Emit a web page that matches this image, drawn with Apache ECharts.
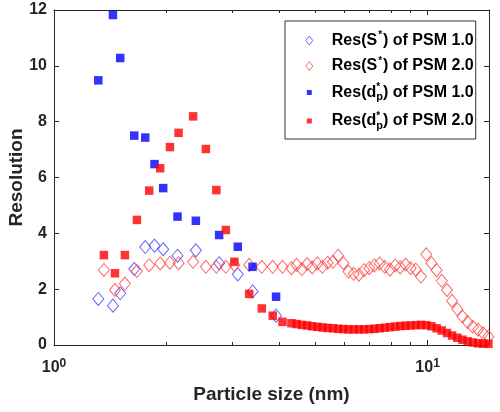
<!DOCTYPE html>
<html><head><meta charset="utf-8">
<script src="https://cdn.jsdelivr.net/npm/echarts@6/dist/echarts.min.js"></script>
<style>html,body{margin:0;padding:0;background:#fff}#c{width:500px;height:412px}</style>
</head><body><div id="c"></div>
<script>
// Particle sizes (nm)
const sizePsm1 = [1.314, 1.438, 1.504, 1.640, 1.755, 1.858, 1.960, 2.141, 2.397, 2.767, 3.104, 3.40, 3.93];
const resSPsm1 = [1.65, 1.41, 1.85, 2.72, 3.51, 3.56, 3.43, 3.20, 3.39, 2.93, 2.53, 1.92, 1.05];
const resDPsm1 = [9.48, 11.82, 10.28, 7.50, 7.43, 6.48, 5.62, 4.60, 4.45, 3.94, 3.52, 2.80, 1.73];

const sizePsm2 = [1.36, 1.456, 1.548, 1.667, 1.798, 1.924, 2.043, 2.155, 2.357, 2.55, 2.72, 2.884, 3.04, 3.33, 3.60, 3.85, 4.09,
  4.32, 4.46, 4.61, 4.76, 4.91, 5.07, 5.23, 5.40, 5.58, 5.76, 5.95, 6.14, 6.34, 6.55, 6.76, 6.98, 7.20, 7.44, 7.68, 7.93,
  8.19, 8.45, 8.73, 9.01, 9.30, 9.60, 9.92, 10.24, 10.57, 10.91, 11.27, 11.63, 12.01, 12.40, 12.80, 13.22, 13.65, 14.09, 14.55];
const resSPsm2 = [2.69, 1.97, 2.20, 2.65, 2.86, 2.92, 2.95, 2.93, 2.98, 2.80, 2.80, 2.80, 2.87, 2.87, 2.80, 2.80, 2.80,
  2.75, 2.87, 2.72, 2.90, 2.78, 2.92, 2.80, 2.95, 2.98, 3.20, 2.93, 2.63, 2.55, 2.52, 2.68, 2.75, 2.85, 2.92, 2.80, 2.70,
  2.85, 2.78, 2.88, 2.75, 2.70, 2.45, 3.25, 2.93, 2.68, 2.30, 1.97, 1.58, 1.28, 1.02, 0.82, 0.65, 0.55, 0.42, 0.30];
const resDPsm2 = [3.22, 2.57, 3.22, 4.48, 5.53, 6.33, 7.09, 7.60, 8.19, 7.02, 5.55, 4.12, 2.98, 1.83, 1.31, 1.05, 0.83,
  0.78, 0.75, 0.72, 0.70, 0.67, 0.65, 0.63, 0.61, 0.60, 0.58, 0.57, 0.56, 0.56, 0.56, 0.56, 0.57, 0.58, 0.60, 0.62, 0.64,
  0.66, 0.68, 0.69, 0.70, 0.71, 0.72, 0.71, 0.67, 0.60, 0.52, 0.43, 0.34, 0.26, 0.19, 0.13, 0.09, 0.06, 0.05, 0.04];

const seriesNames = ['Res(S*) of PSM 1.0', 'Res(S*) of PSM 2.0', 'Res(dp*) of PSM 1.0', 'Res(dp*) of PSM 2.0'];
const xMajorTicks = [1, 10];
const xMinorTicks = [2, 3, 4, 5, 6, 7, 8, 9];

const FONT = "'Liberation Sans', Arial, sans-serif";
const AX = '#262626';
const BLUE = '#0000ff', RED = '#ff0000';
const BLUE_L = '#4040ff', RED_L = '#ff4040';

function pairs(xs, ys) { return xs.map((x, i) => [x, ys[i]]); }

// icons padded to the full 35x10 item box (invisible zero-length corners) so the legend layout keeps its left edge
const DIAMOND_ICON = 'path://M0,0L0,0M35,10L35,10M17.5,0.5L21,5L17.5,9.5L14,5Z';
const SQUARE_ICON = 'path://M0,0L0,0M35,10L35,10M15,2.5L20,2.5L20,7.5L15,7.5Z';

const legendLabel = {
  'Res(S*) of PSM 1.0': '{b|Res(S}{sup|*}{b|) of PSM 1.0}',
  'Res(S*) of PSM 2.0': '{b|Res(S}{sup|*}{b|) of PSM 2.0}',
  'Res(dp*) of PSM 1.0': '{b|Res(d}{supz|*}{sub|p}{b|) of PSM 1.0}',
  'Res(dp*) of PSM 2.0': '{b|Res(d}{supz|*}{sub|p}{b|) of PSM 2.0}'
};

const xAxisBase = { type: 'log', logBase: 10, min: 1, max: 14.6, gridIndex: 0, splitLine: { show: false } };
const chart = echarts.init(document.getElementById('c'), null, { renderer: 'canvas' });
chart.setOption({
  animation: false,
  backgroundColor: '#fff',
  textStyle: { fontFamily: FONT },
  grid: { left: 54, right: 11, top: 10, bottom: 67, containLabel: false, outerBoundsMode: 'none' },
  legend: {
    orient: 'vertical', left: 285, top: 21,
    padding: [9.5, 2, 8, 6.3], itemGap: 7.5,
    itemWidth: 35, itemHeight: 10, symbolKeepAspect: true,
    borderColor: '#333', borderWidth: 1, backgroundColor: '#fff',
    selectedMode: false,
    formatter: n => legendLabel[n],
    textStyle: {
      fontFamily: FONT, color: '#000',
      rich: {
        b: { fontSize: 16, fontWeight: 'bold', lineHeight: 20, color: '#000', fontFamily: FONT },
        sup: { fontSize: 10, fontWeight: 'bold', lineHeight: 10, verticalAlign: 'top', color: '#000', fontFamily: FONT, padding: [0, 1, 0, 1] },
        supz: { fontSize: 10, fontWeight: 'bold', lineHeight: 10, verticalAlign: 'top', color: '#000', fontFamily: FONT, width: 0 },
        sub: { fontSize: 11, fontWeight: 'bold', lineHeight: 14, padding: [10, 0, 0, 0], verticalAlign: 'bottom', color: '#000', fontFamily: FONT }
      }
    },
    data: [
      { name: seriesNames[0], icon: DIAMOND_ICON, itemStyle: { color: 'transparent', borderColor: BLUE_L, borderWidth: 1 } },
      { name: seriesNames[1], icon: DIAMOND_ICON, itemStyle: { color: 'transparent', borderColor: RED_L, borderWidth: 1 } },
      { name: seriesNames[2], icon: SQUARE_ICON, itemStyle: { color: BLUE, borderWidth: 0 } },
      { name: seriesNames[3], icon: SQUARE_ICON, itemStyle: { color: RED, borderWidth: 0 } }
    ]
  },
  xAxis: [
    Object.assign({}, xAxisBase, {
      position: 'bottom',
      axisLine: { show: true, lineStyle: { color: AX, width: 1 } },
      axisTick: { show: true, inside: true, length: 5, customValues: xMajorTicks, lineStyle: { color: AX } },
      axisLabel: {
        customValues: xMajorTicks, margin: 13, color: AX,
        formatter: v => '{b|10}{s|' + Math.round(Math.log10(v)) + '}',
        rich: {
          b: { fontSize: 16, fontWeight: 'bold', lineHeight: 20, color: AX, fontFamily: FONT },
          s: { fontSize: 12, fontWeight: 'bold', lineHeight: 7, verticalAlign: 'top', color: AX, fontFamily: FONT }
        }
      },
      name: 'Particle size (nm)', nameLocation: 'middle', nameGap: 40, nameMoveOverlap: false,
      nameTextStyle: { fontSize: 19, fontWeight: 'bold', color: AX, fontFamily: FONT }
    }),
    Object.assign({}, xAxisBase, {
      position: 'bottom', axisLine: { show: false },
      axisTick: { show: true, inside: true, length: 3, customValues: xMinorTicks, lineStyle: { color: AX } },
      axisLabel: { show: false }
    }),
    Object.assign({}, xAxisBase, {
      position: 'top', axisLine: { show: true, lineStyle: { color: AX, width: 1 } },
      axisTick: { show: true, inside: true, length: 5, customValues: xMajorTicks, lineStyle: { color: AX } },
      axisLabel: { show: false }
    }),
    Object.assign({}, xAxisBase, {
      position: 'top', axisLine: { show: false },
      axisTick: { show: true, inside: true, length: 3, customValues: xMinorTicks, lineStyle: { color: AX } },
      axisLabel: { show: false }
    })
  ],
  yAxis: [
    {
      type: 'value', min: 0, max: 12, interval: 2, position: 'left',
      axisLine: { show: true, lineStyle: { color: AX, width: 1 } },
      axisTick: { show: true, inside: true, length: 5, lineStyle: { color: AX } },
      axisLabel: { margin: 7, fontSize: 16, fontWeight: 'bold', color: AX, fontFamily: FONT },
      splitLine: { show: false },
      name: 'Resolution', nameLocation: 'middle', nameGap: 28, nameMoveOverlap: false,
      nameTextStyle: { fontSize: 19, fontWeight: 'bold', color: AX, fontFamily: FONT }
    },
    {
      type: 'value', min: 0, max: 12, interval: 2, position: 'right',
      axisLine: { show: true, lineStyle: { color: AX, width: 1 } },
      axisTick: { show: true, inside: true, length: 5, lineStyle: { color: AX } },
      axisLabel: { show: false }, splitLine: { show: false }
    }
  ],
  series: [
    { name: seriesNames[0], type: 'scatter', xAxisIndex: 0, yAxisIndex: 0, data: pairs(sizePsm1, resSPsm1),
      symbol: 'diamond', symbolSize: [11, 13], itemStyle: { color: 'transparent', borderColor: BLUE_L, borderWidth: 1 } },
    { name: seriesNames[1], type: 'scatter', xAxisIndex: 0, yAxisIndex: 0, data: pairs(sizePsm2, resSPsm2),
      symbol: 'diamond', symbolSize: [11, 13], itemStyle: { color: 'transparent', borderColor: RED_L, borderWidth: 1 } },
    { name: seriesNames[2], type: 'scatter', xAxisIndex: 0, yAxisIndex: 0, data: pairs(sizePsm1, resDPsm1),
      symbol: 'rect', symbolSize: 8.5, itemStyle: { color: BLUE } },
    { name: seriesNames[3], type: 'scatter', xAxisIndex: 0, yAxisIndex: 0, data: pairs(sizePsm2, resDPsm2),
      symbol: 'rect', symbolSize: 8.5, itemStyle: { color: RED } }
  ]
});
</script>
</body></html>
